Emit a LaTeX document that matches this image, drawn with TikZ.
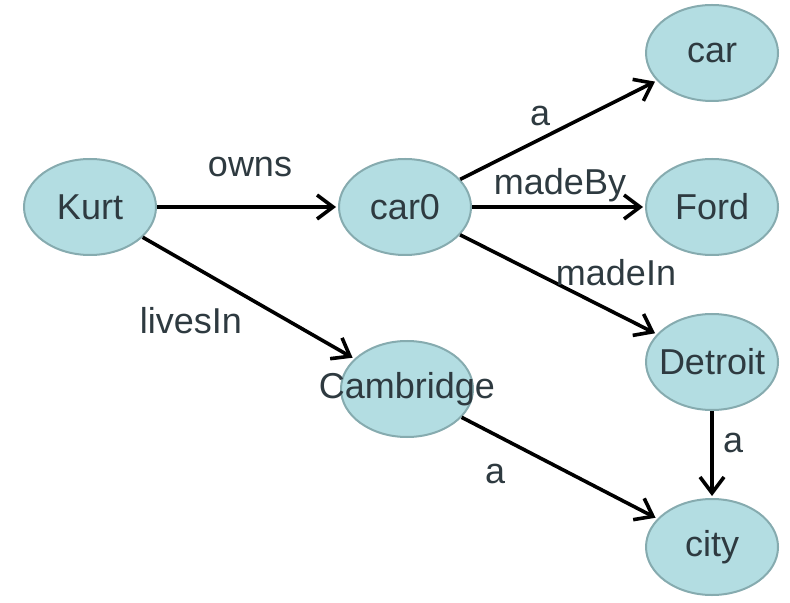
\documentclass[tikz,border=0pt]{standalone}
\usepackage{fontspec}
\setmainfont{Liberation Sans}
\usetikzlibrary{arrows.meta,shapes.geometric}
\definecolor{nodefill}{HTML}{B3DDE2}
\definecolor{nodeline}{HTML}{86ABAF}
\definecolor{txt}{HTML}{2E3A40}
\begin{document}
\begin{tikzpicture}[x=0.5pt,y=-0.5pt,
  ent/.style={ellipse,draw=nodeline,line width=1pt,fill=nodefill,minimum width=66pt,minimum height=48pt,inner sep=0pt,text=txt,font=\fontsize{18}{21}\selectfont,text width=0pt,align=center},
  lbl/.style={text=txt,font=\fontsize{18}{21}\selectfont,inner sep=0pt},
  rel/.style={line width=1.8pt,-{Straight Barb[length=8pt,width=12pt,line width=1.8pt]},shorten >=1pt}]
\useasboundingbox (0,0) rectangle (790,603);
\node[ent] (kurt) at (90,207) {\makebox[0pt]{Kurt}};
\node[ent] (car0) at (405,207) {\makebox[0pt]{car0}};
\node[ent] (car) at (712,53) {\makebox[0pt]{car}};
\node[ent] (ford) at (712,207) {\makebox[0pt]{Ford}};
\node[ent] (detroit) at (712,362) {\makebox[0pt]{Detroit}};
\node[ent] (city) at (712,547) {\makebox[0pt]{city}};
\node[ent] (cam) at (407,389) {\makebox[0pt]{Cambridge}};
\draw[rel] (kurt) -- (car0);
\draw[rel] (car0) -- (car);
\draw[rel] (car0) -- (ford);
\draw[rel] (car0) -- (detroit);
\draw[rel] (kurt) -- (cam);
\draw[rel] (cam) -- (city);
\draw[rel] (detroit) -- (city);
\node[lbl] (l1) at (250,167) {owns};
\node[lbl] (l2) at (540,116) {a};
\node[lbl] (l3) at (560,185) {madeBy};
\node[lbl] (l4) at (616,273) {madeIn};
\node[lbl] (l5) at (191,321) {livesIn};
\node[lbl] (l6) at (495,474) {a};
\node[lbl] (l7) at (733,443) {a};
\end{tikzpicture}
\end{document}
